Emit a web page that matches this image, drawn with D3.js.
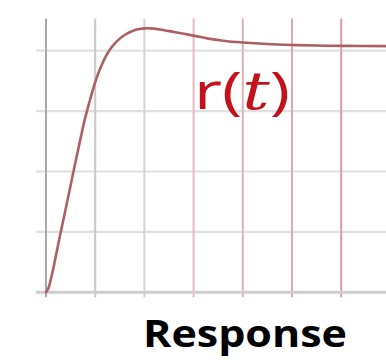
<!DOCTYPE html>
<html>
<head>
<meta charset="utf-8">
<script src="https://cdn.jsdelivr.net/npm/d3@7"></script>
<style>
  html, body { margin: 0; padding: 0; background: #ffffff; }
  svg { display: block; }
</style>
</head>
<body>
<script>
// Step response r(t), in grid units (one unit per grid cell)
const timeValues = [0, 0.05, 0.1, 0.15, 0.2, 0.3, 0.4, 0.5, 0.6, 0.7, 0.8, 0.9, 1.0, 1.1, 1.2, 1.3, 1.4, 1.5, 1.6, 1.7, 1.8, 1.9, 2.0, 2.2, 2.4, 2.6, 2.8, 3.0, 3.3, 3.6, 4.0, 4.5, 5.0, 5.5, 6.0, 6.95];
const responseValues = [0, 0.07, 0.22, 0.4, 0.6, 1.0, 1.38, 1.77, 2.16, 2.54, 2.9, 3.2, 3.48, 3.7, 3.88, 4.02, 4.12, 4.2, 4.26, 4.305, 4.34, 4.36, 4.37, 4.365, 4.34, 4.31, 4.28, 4.25, 4.2, 4.165, 4.135, 4.11, 4.095, 4.085, 4.08, 4.075];
const xTicks = [0, 1, 2, 3, 4, 5, 6];
const yTicks = [0, 1, 2, 3, 4];
const curveLabel = ["r", "(", "t", ")"];
const caption = "Response";

// grid line colours, fading from grey to rose across the plot
const vGridColors = ["#a9a9a9", "#c8c8c8", "#d3d3d3", "#e6bcc0", "#e0b0b4", "#dbaaae", "#d3a0a5"];

const W = 386, H = 360;
const svg = d3.select("body").append("svg").attr("width", W).attr("height", H);

const x = d3.scaleLinear().domain([0, 6]).range([46, 341.2]);
const y = d3.scaleLinear().domain([0, 4]).range([292.3, 50.7]);

const yTop = 4.535, yBottom = -0.08, xLeft = -0.2, xRight = 6.95;

// horizontal grid
svg.append("g").selectAll("line").data(yTicks.filter(d => d !== 0)).join("line")
  .attr("x1", x(xLeft)).attr("x2", x(xRight))
  .attr("y1", d => y(d)).attr("y2", d => y(d))
  .attr("stroke", "#e0e0e0").attr("stroke-width", 2.2);

// vertical grid, running slightly below the baseline as tick marks
svg.append("g").selectAll("line").data(xTicks).join("line")
  .attr("x1", d => x(d)).attr("x2", d => x(d))
  .attr("y1", y(yTop)).attr("y2", y(yBottom))
  .attr("stroke", (d, i) => vGridColors[i]).attr("stroke-width", 2);

// baseline
svg.append("line")
  .attr("x1", x(xLeft)).attr("x2", x(xRight))
  .attr("y1", y(0)).attr("y2", y(0))
  .attr("stroke", "#cdcdcd").attr("stroke-width", 3);

// response curve
const pts = timeValues.map((t, i) => [t, responseValues[i]]);
svg.append("path")
  .datum(pts)
  .attr("fill", "none")
  .attr("stroke", "#ad6064")
  .attr("stroke-width", 2.6)
  .attr("stroke-linecap", "round")
  .attr("d", d3.line().x(d => x(d[0])).y(d => y(d[1])).curve(d3.curveCatmullRom.alpha(0.5)));

// curve label
const lbl = svg.append("text")
  .attr("x", 194).attr("y", 109)
  .attr("fill", "#c4121b")
  .attr("font-family", "'Open Sans', 'Noto Sans', sans-serif")
  .attr("font-size", 52)
  .attr("textLength", 96)
  .attr("lengthAdjust", "spacingAndGlyphs");
lbl.selectAll("tspan").data(curveLabel).join("tspan")
  .attr("font-style", d => d === "t" ? "italic" : "normal")
  .attr("font-family", d => d === "t" ? "'DejaVu Serif', serif" : null)
  .text(d => d);

// caption
svg.append("text")
  .attr("x", 143).attr("y", 347)
  .attr("fill", "#000")
  .attr("font-family", "'Open Sans', sans-serif")
  .attr("font-weight", 700)
  .attr("font-size", 37)
  .attr("textLength", 204)
  .attr("lengthAdjust", "spacingAndGlyphs")
  .text(caption);
</script>
</body>
</html>
